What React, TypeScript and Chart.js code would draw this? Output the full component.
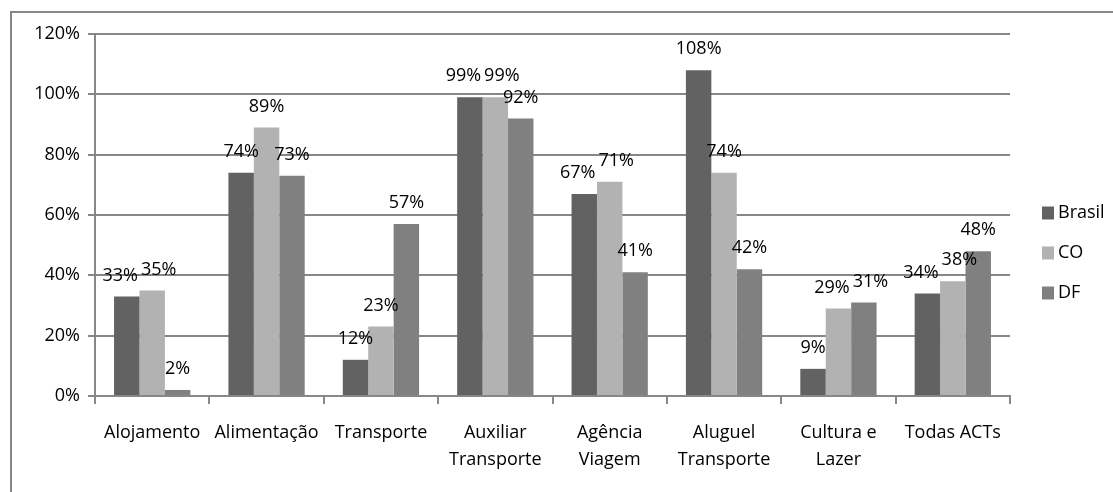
import { useEffect, useRef } from 'react';
import { Chart, registerables } from 'chart.js';

Chart.register(...registerables);

// Activity categories (multi-line labels as arrays)
const categories: (string | string[])[] = [
  'Alojamento',
  'Alimentação',
  'Transporte',
  ['Auxiliar', 'Transporte'],
  ['Agência', 'Viagem'],
  ['Aluguel', 'Transporte'],
  ['Cultura e', 'Lazer'],
  'Todas ACTs',
];

// Growth per region, in percent
const brasil = [33, 74, 12, 99, 67, 108, 9, 34];
const co = [35, 89, 23, 99, 71, 74, 29, 38];
const df = [2, 73, 57, 92, 41, 42, 31, 48];

const seriesNames = ['Brasil', 'CO', 'DF'];
const seriesColors = ['#626262', '#b2b2b2', '#808080'];

const yMin = 0;
const yMax = 120;
const yStep = 20;

const FONT = '"Open Sans", sans-serif';
const FONT_SIZE = 18;
const GRID = '#878787';

// Value labels above each bar; labels of neighbouring bars that would
// collide are pushed apart sideways.
const valueLabels = {
  id: 'valueLabels',
  afterDatasetsDraw(chart: Chart) {
    const ctx = chart.ctx;
    ctx.save();
    ctx.font = `${FONT_SIZE}px ${FONT}`;
    ctx.fillStyle = '#000';
    ctx.textAlign = 'center';
    ctx.textBaseline = 'middle';
    const nCat = chart.data.labels?.length ?? 0;
    const nSet = chart.data.datasets.length;
    const textH = FONT_SIZE;
    for (let c = 0; c < nCat; c++) {
      const items: { text: string; x: number; y: number; w: number }[] = [];
      for (let d = 0; d < nSet; d++) {
        const el: any = chart.getDatasetMeta(d).data[c];
        const v = chart.data.datasets[d].data[c] as number;
        const text = `${v}%`;
        items.push({ text, x: el.x, y: el.y - 21, w: ctx.measureText(text).width });
      }
      for (let pass = 0; pass < 4; pass++) {
        for (let i = 0; i < items.length - 1; i++) {
          const a = items[i];
          const b = items[i + 1];
          if (Math.abs(a.y - b.y) >= textH) continue;
          const need = (a.w + b.w) / 2 + 3 - (b.x - a.x);
          if (need > 0) {
            a.x -= need / 2;
            b.x += need / 2;
          }
        }
      }
      items.forEach((it) => ctx.fillText(it.text, it.x, it.y));
    }
    ctx.restore();
  },
};

const sideLegend = {
  id: 'sideLegend',
  afterDraw(chart: Chart) {
    const ctx = chart.ctx;
    const area = chart.chartArea;
    const x0 = area.right + 32;
    const rowGap = 40;
    const midY = (area.top + area.bottom) / 2 + 38;
    const n = chart.data.datasets.length;
    ctx.save();
    ctx.font = `${FONT_SIZE}px ${FONT}`;
    ctx.textAlign = 'left';
    ctx.textBaseline = 'middle';
    chart.data.datasets.forEach((ds, i) => {
      const cy = midY + (i - (n - 1) / 2) * rowGap;
      ctx.fillStyle = ds.backgroundColor as string;
      ctx.fillRect(x0, cy - 6.5, 12, 13);
      ctx.fillStyle = '#000';
      ctx.fillText(ds.label as string, x0 + 16, cy);
    });
    ctx.restore();
  },
};

export default function App() {
  const canvasRef = useRef<HTMLCanvasElement | null>(null);

  useEffect(() => {
    if (!canvasRef.current) return;
    const seriesValues = [brasil, co, df];
    const chart = new Chart(canvasRef.current, {
      type: 'bar',
      data: {
        labels: categories,
        datasets: seriesValues.map((values, i) => ({
          label: seriesNames[i],
          data: values,
          backgroundColor: seriesColors[i],
          borderWidth: 0,
          categoryPercentage: 0.667,
          barPercentage: 1,
        })),
      },
      options: {
        animation: false,
        responsive: false,
        maintainAspectRatio: false,
        layout: { padding: { left: 0, top: 34, right: 103, bottom: 0 } },
        plugins: {
          legend: { display: false },
          tooltip: { enabled: false },
        },
        scales: {
          x: {
            afterFit: (scale: any) => {
              scale.height = 96;
            },
            grid: {
              offset: true,
              drawOnChartArea: false,
              drawTicks: true,
              tickLength: 8,
              color: GRID,
              lineWidth: 2,
            },
            border: { display: true, color: GRID, width: 2 },
            ticks: {
              color: '#000',
              font: { family: FONT, size: FONT_SIZE, lineHeight: 1.5 },
              padding: 15,
              maxRotation: 0,
              autoSkip: false,
            },
          },
          y: {
            min: yMin,
            max: yMax,
            afterFit: (scale: any) => {
              scale.width = 95;
            },
            grid: {
              color: GRID,
              lineWidth: 2,
              drawTicks: true,
              tickLength: 7,
            },
            border: { display: true, color: GRID, width: 2 },
            ticks: {
              stepSize: yStep,
              color: '#000',
              font: { family: FONT, size: FONT_SIZE },
              padding: 8,
              callback: (v: any) => `${v}%`,
            },
          },
        },
      },
      plugins: [valueLabels, sideLegend],
    });
    return () => chart.destroy();
  }, []);

  return (
    <>
      <div
        style={{
          position: 'absolute',
          left: 10,
          top: 11,
          width: 1120,
          height: 500,
          border: `2px solid ${GRID}`,
          boxSizing: 'border-box',
          background: '#fff',
        }}
      />
      <canvas
        ref={canvasRef}
        width={1113}
        height={492}
        style={{ position: 'absolute', left: 0, top: 0, width: 1113, height: 492 }}
      />
    </>
  );
}
